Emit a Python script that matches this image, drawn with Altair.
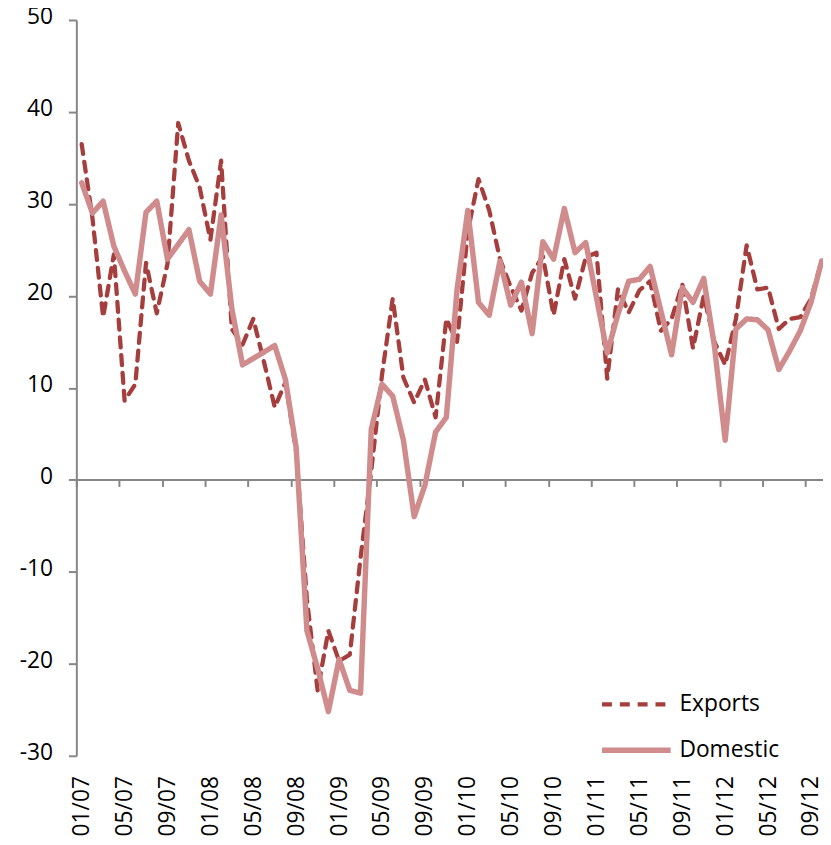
import altair as alt
import pandas as pd

exports = [36.5, 28.5, 17.7, 24.5, 8.6, 10.4, 23.6, 18.1, 23.5, 38.8,
           34.7, 31.8, 26.1, 34.7, 16.4, 14.7, 17.5, 12.8, 7.9, 10.6,
           3.0, -13.0, -22.9, -16.4, -19.7, -19.0, -8.5, 1.0, 11.4, 19.7,
           11.1, 8.4, 10.9, 6.8, 17.5, 15.0, 27.0, 32.7, 29.3, 24.0,
           21.0, 18.4, 22.5, 24.3, 17.9, 24.0, 19.7, 24.2, 24.7, 11.0,
           20.7, 18.2, 20.6, 21.6, 16.2, 17.5, 21.3, 14.3, 20.0, 15.0,
           12.5, 17.5, 25.5, 20.7, 20.9, 16.4, 17.5, 17.7, 19.7, 23.8]
domestic = [32.3, 29.0, 30.3, 25.4, 22.7, 20.2, 29.1, 30.3, 24.0, 25.6,
            27.2, 21.6, 20.2, 28.8, 18.6, 12.5, 13.2, 13.9, 14.6, 10.9,
            3.5, -16.4, -20.5, -25.2, -19.5, -22.9, -23.2, 5.5, 10.4, 9.1,
            4.3, -4.0, -0.6, 5.2, 6.8, 20.7, 29.3, 19.3, 17.9, 23.8,
            19.0, 21.5, 15.9, 25.9, 24.0, 29.5, 24.7, 25.8, 19.8, 13.8,
            18.0, 21.6, 21.8, 23.2, 18.4, 13.6, 20.9, 19.3, 21.9, 14.5,
            4.3, 16.4, 17.5, 17.4, 16.3, 12.0, 14.0, 16.2, 19.3, 23.8]
tick_labels = ["01/07", "05/07", "09/07", "01/08", "05/08", "09/08",
               "01/09", "05/09", "09/09", "01/10", "05/10", "09/10",
               "01/11", "05/11", "09/11", "01/12", "05/12", "09/12"]
series = ["Exports", "Domestic"]

rows = []
for i, v in enumerate(exports):
    rows.append({"i": i, "value": v, "series": "Exports"})
for i, v in enumerate(domestic):
    rows.append({"i": i, "value": v, "series": "Domestic"})
df = pd.DataFrame(rows)

FONT = "Open Sans"
GRAY = "#868686"
H = 743
xscale = alt.Scale(domain=[-0.5, 69.12], nice=False, zero=False)
yscale = alt.Scale(domain=[-30, 50], nice=False, zero=False)

label_values = [4 * k for k in range(len(tick_labels))]
boundary_values = [4 * k - 0.5 for k in range(len(tick_labels))]
label_expr = "[" + ",".join("'%s'" % t for t in tick_labels) + "][round(datum.value/4)]"


def legend():
    return alt.Legend(title=None, orient="none", legendX=531, legendY=657,
                      symbolType="M-1.1,0H1.1", symbolSize=3969, labelFont=FONT,
                      labelFontSize=23, labelColor="#000000", labelOffset=9,
                      rowPadding=0, padding=0)


lines = alt.Chart(df).mark_line(strokeCap="round", strokeJoin="round", clip=True).encode(
    x=alt.X("i:Q", scale=xscale,
            axis=alt.Axis(orient="bottom", values=label_values, labelExpr=label_expr,
                          labelAngle=-90, labelFont=FONT, labelFontSize=23, labelColor="#000000",
                          labelPadding=20, ticks=False, tickSize=0, domain=False, grid=False,
                          title=None, labelOverlap=False, labelFlush=False)),
    y=alt.Y("value:Q", scale=yscale,
            axis=alt.Axis(values=list(range(-30, 51, 10)), labelExpr="datum.value + ''",
                          labelFont=FONT, labelFontSize=23, labelOffset=-3,
                          labelColor="#000000", labelPadding=16, tickSize=8, tickColor=GRAY,
                          tickWidth=2, domainColor=GRAY, domainWidth=2, grid=False, title=None)),
    color=alt.Color("series:N", scale=alt.Scale(domain=series, range=["#A53E3D", "#D08C8C"]),
                    legend=legend()),
    strokeDash=alt.StrokeDash("series:N", scale=alt.Scale(domain=series, range=[[10, 8], [1, 0]]),
                              legend=legend()),
    strokeWidth=alt.StrokeWidth("series:N", scale=alt.Scale(domain=series, range=[4.3, 5.5]),
                                legend=legend()),
)

zero_axis = alt.Chart(df).mark_point(opacity=0).encode(
    x=alt.X("i:Q", scale=xscale,
            axis=alt.Axis(orient="bottom", values=boundary_values, labels=False, ticks=True,
                          tickSize=7, tickColor=GRAY, tickWidth=2, domain=True, domainColor=GRAY,
                          domainWidth=2, grid=False, title=None, offset=-279)),
)

chart = alt.layer(zero_axis, lines).resolve_axis(x="independent").properties(
    width=754, height=H,
    autosize=alt.AutoSizeParams(type="none"),
    padding={"left": 69, "top": 8, "right": 0, "bottom": 86},
).configure_view(stroke=None)

chart.save("out.html", embed_options={"renderer": "svg", "actions": False})
